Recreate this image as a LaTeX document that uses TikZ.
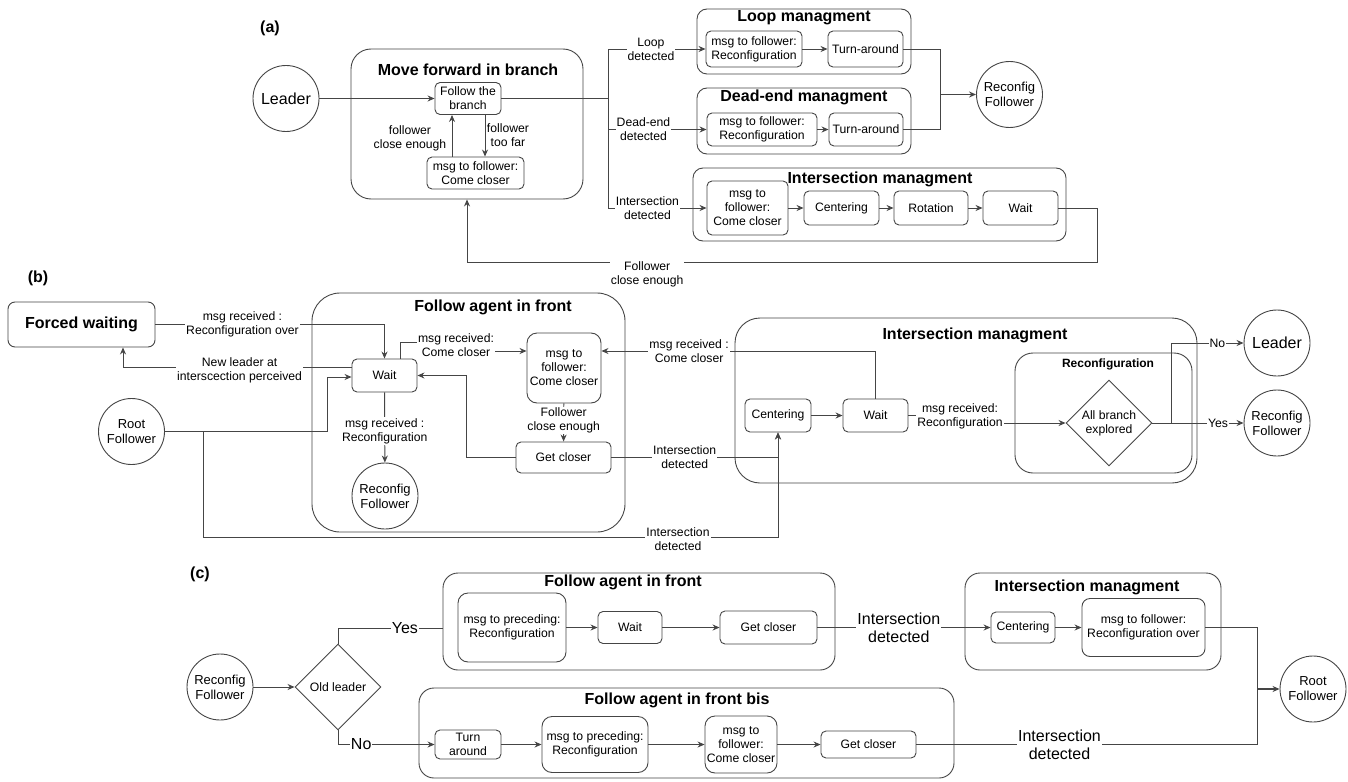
\documentclass[tikz,border=0pt]{standalone}
\usepackage{fontspec}
\setmainfont{Liberation Sans}
\usetikzlibrary{shapes.geometric,arrows.meta,positioning}
\definecolor{ln}{HTML}{454545}

\begin{document}
\begin{tikzpicture}[x=1pt, y=-1pt, >={Stealth[length=7pt,width=6pt]}, line width=0.9pt,
  every node/.style={font=\fontsize{12.2}{14}\selectfont, align=center},
  wire/.style={draw=ln},
  arr/.style={draw=ln, ->},
  box/.style={draw=ln, rectangle, rounded corners=5pt, fill=white, inner sep=0pt},
  group/.style={draw=ln, rectangle, inner sep=0pt},
  title/.style={font=\bfseries\fontsize{16}{18}\selectfont},
  state/.style={draw=ln, circle, minimum size=66pt, inner sep=0pt, fill=white, font=\fontsize{13}{15}\selectfont},
  choice/.style={draw=ln, diamond, aspect=1, minimum width=86pt, minimum height=86pt, inner sep=0pt, fill=white},
  lbl/.style={fill=white, inner sep=1pt},
  big/.style={font=\fontsize{16}{18}\selectfont}]
  \useasboundingbox (0,0) rectangle (1348,781);

  % (a)
  \node[title] at (270,28) {(a)};
  \node[group, minimum width=232pt, minimum height=150pt, rounded corners=20pt] (mv) at (467,124) {};
  \node[title] at (468,70) {Move forward in branch};
  \node[state, big] (leadA) at (286,98.5) {Leader};
  \node[box, minimum width=66pt, minimum height=32pt] (fb) at (468,98.5) {Follow the\\branch};
  \node[box, minimum width=97pt, minimum height=32pt] (mcc) at (475.5,173) {msg to follower:\\Come closer};

  \node[group, minimum width=214pt, minimum height=65pt, rounded corners=10pt] (loopg) at (804,41.5) {};
  \node[title] at (804,18) {Loop managment};
  \node[box, minimum width=96pt, minimum height=36pt] (lmsg) at (754,49) {msg to follower:\\Reconfiguration};
  \node[box, minimum width=75pt, minimum height=36pt] (lturn) at (865.5,49) {Turn-around};

  \node[group, minimum width=214pt, minimum height=66pt, rounded corners=10pt] (deadg) at (804,121) {};
  \node[title] at (804,97) {Dead-end managment};
  \node[box, minimum width=110pt, minimum height=33pt] (dmsg) at (762,129.5) {msg to follower:\\Reconfiguration};
  \node[box, minimum width=74pt, minimum height=33pt] (dturn) at (866,129.5) {Turn-around};

  \node[group, minimum width=373pt, minimum height=73pt, rounded corners=10pt] (intag) at (879.5,204.5) {};
  \node[title] at (880,179) {Intersection managment};
  \node[box, minimum width=81pt, minimum height=54pt] (imsg) at (747.5,208) {msg to\\follower:\\Come closer};
  \node[box, minimum width=75pt, minimum height=34pt] (icent) at (841.5,208) {Centering};
  \node[box, minimum width=74pt, minimum height=34pt] (irot) at (931,208) {Rotation};
  \node[box, minimum width=75pt, minimum height=34pt] (iwait) at (1020.5,208) {Wait};
  \node[state] (rfA) at (1009.5,94.5) {Reconfig\\Follower};

  \draw[arr] (leadA.east) -- (fb.west);
  \draw[arr] ([xshift=-23.5pt]mcc.north) -- ([xshift=-16pt]fb.south);
  \draw[arr] ([xshift=17pt]fb.south) -- ([xshift=9.5pt]mcc.north);
  \node at (410,138) {follower\\close enough};
  \node at (508,135) {follower\\too far};

  \coordinate (sp) at (608,98.5);
  \draw[wire, line width=1.8pt] (fb.east) -- (sp);
  \draw[arr] (sp) |- (lmsg.west) node[lbl, pos=0.72] {Loop\\detected};
  \draw[arr] (sp) |- (dmsg.west) node[lbl, pos=0.68] {Dead-end\\detected};
  \draw[arr] (sp) |- (imsg.west) node[lbl, pos=0.7] {Intersection\\detected};

  \draw[arr] (lmsg) -- (lturn);
  \draw[arr] (dmsg) -- (dturn);
  \draw[arr] (imsg) -- (icent);
  \draw[arr] (icent) -- (irot);
  \draw[arr] (irot) -- (iwait);

  \coordinate (mj) at (940,94.5);
  \draw[wire] (lturn.east) -| (mj);
  \draw[wire] (dturn.east) -| (mj);
  \draw[arr, line width=1.4pt] (mj) -- (rfA.west);

  \coordinate (fc) at (1097,262);
  \draw[arr] (iwait.east) -| (fc) -| (mv.south) node[lbl, pos=0.357, yshift=-12pt] {Follower\\close enough};

  % (b)
  \node[title] at (38,278) {(b)};
  \node[box, title, minimum width=147pt, minimum height=45pt, rounded corners=7pt] (fw) at (81.5,324.5) {Forced waiting};
  \node[group, minimum width=313pt, minimum height=239pt, rounded corners=28pt] (fafb) at (468.5,412.5) {};
  \node[title] at (493,307) {Follow agent in front};
  \node[box, minimum width=65pt, minimum height=33pt] (bwait) at (384.5,375.5) {Wait};
  \node[box, minimum width=74pt, minimum height=70pt, rounded corners=10pt] (bmsg) at (564,368) {msg to\\follower:\\Come closer};
  \node[box, minimum width=95pt, minimum height=31pt] (bget) at (563.5,457.5) {Get closer};
  \node[state] (brf) at (385,496) {Reconfig\\Follower};
  \node[state] (broot) at (131.5,431.5) {Root\\Follower};

  \node[group, minimum width=462pt, minimum height=165pt, rounded corners=25pt] (intb) at (966,400.5) {};
  \node[title] at (975,335) {Intersection managment};
  \node[group, minimum width=177pt, minimum height=120pt, rounded corners=18pt] (recb) at (1103.5,413) {};
  \node[font=\bfseries\fontsize{12}{14}\selectfont] at (1108,364) {Reconfiguration};
  \node[box, minimum width=66pt, minimum height=33pt] (bcent) at (778,415.5) {Centering};
  \node[box, minimum width=65pt, minimum height=33pt] (bwait2) at (875.5,415.5) {Wait};
  \node[choice] (bdia) at (1109,423) {All branch\\explored};
  \node[state, big] (bleader) at (1277,343) {Leader};
  \node[state] (brf2) at (1277,423) {Reconfig\\Follower};

  \draw[arr] (fw.east) -| (bwait.north) node[lbl, pos=0.19] {msg received :\\Reconfiguration over};
  \draw[arr] ([yshift=8pt]bwait.west) -| ([xshift=41.5pt]fw.south) node[lbl, pos=0.245, yshift=-3pt] {New leader at\\interscection perceived};
  \coordinate (rj) at (203,431.5);
  \coordinate (ib) at (778,537);
  \draw[arr] (broot.east) -- (327,431.5) |- ([yshift=-1.5pt]bwait.west);
  \draw[arr] (rj) |- (ib) -- (bcent.south);
  \node[lbl] at (678,539) {Intersection\\detected};

  \draw[arr] ([xshift=15.5pt]bwait.north) |- (464,342) |- ([yshift=17pt]bmsg.west);
  \node[lbl] at (456,345) {msg received:\\Come closer};
  \draw[arr] (bmsg) -- (bget) node[lbl, pos=0.45] {Follower\\close enough};
  \draw[arr] (bget.west) -- (466,457.5) |- (bwait.east);
  \draw[arr] (bwait) -- (brf) node[lbl, pos=0.55] {msg received :\\Reconfiguration};
  \draw[arr] (bget.east) -| (bcent.south) node[lbl, pos=0.22] {Intersection\\detected};
  \draw[arr] (bcent) -- (bwait2);
  \draw[arr] (bwait2.north) |- ([yshift=17pt]bmsg.east) node[lbl, pos=0.84] {msg received :\\Come closer};
  \draw[arr] (bwait2.east) -- ++(10,0) |- (bdia.west);
  \node[lbl] at (960,416) {msg received:\\Reconfiguration};
  \draw[arr] (bdia.east) -- (1171,423) |- (bleader.west) node[lbl, pos=0.82] {No};
  \draw[arr] (bdia.east) -- (brf2.west) node[lbl, pos=0.72] {Yes};

  % (c)
  \node[title] at (200,574) {(c)};
  \node[state] (crf) at (220,687) {Reconfig\\Follower};
  \node[choice] (cdia) at (338,687) {Old leader};
  \node[group, minimum width=392pt, minimum height=97pt, rounded corners=15pt] (fafc) at (639,621.5) {};
  \node[title] at (623,582) {Follow agent in front};
  \node[box, minimum width=108pt, minimum height=69pt, rounded corners=10pt] (cmsg1) at (512,627.5) {msg to preceding:\\Reconfiguration};
  \node[box, minimum width=64pt, minimum height=32pt] (cwait) at (630,627.5) {Wait};
  \node[box, minimum width=97pt, minimum height=33pt] (cget) at (768.5,627.5) {Get closer};
  \node[group, minimum width=256pt, minimum height=97pt, rounded corners=15pt] (intc) at (1093,621.5) {};
  \node[title] at (1087,587) {Intersection managment};
  \node[box, minimum width=64pt, minimum height=31pt] (ccent) at (1023,627.5) {Centering};
  \node[box, minimum width=123pt, minimum height=58pt, rounded corners=8pt] (cmsg2) at (1143.5,627.5) {msg to follower:\\Reconfiguration over};
  \node[state] (croot) at (1313,689) {Root\\Follower};
  \node[group, minimum width=535pt, minimum height=90pt, rounded corners=15pt] (fafbis) at (686.5,733) {};
  \node[title] at (677,700) {Follow agent in front bis};
  \node[box, minimum width=66pt, minimum height=29pt] (cturn) at (468,744.5) {Turn\\around};
  \node[box, minimum width=106pt, minimum height=56pt, rounded corners=10pt] (cmsg3) at (595,744.5) {msg to preceding:\\Reconfiguration};
  \node[box, minimum width=72pt, minimum height=57pt, rounded corners=10pt] (cmsg4) at (741,744.5) {msg to\\follower:\\Come closer};
  \node[box, minimum width=95pt, minimum height=27pt] (cget2) at (868.5,744.5) {Get closer};

  \draw[arr] (crf) -- (cdia);
  \draw[wire] (cdia.north) |- ([yshift=-6.5pt]fafc.west) node[lbl, big, pos=0.82] {Yes};
  \draw[arr] (cdia.south) |- (cturn.west) node[lbl, big, pos=0.62] {No};
  \draw[arr] (cmsg1) -- (cwait);
  \draw[arr] (cwait) -- (cget);
  \draw[arr] (cget) -- (ccent) node[lbl, big, pos=0.47] {Intersection\\detected};
  \draw[arr] (ccent) -- (cmsg2);
  \draw[arr] (cturn) -- (cmsg3);
  \draw[arr] (cmsg3) -- (cmsg4);
  \draw[arr] (cmsg4) -- (cget2);
  \coordinate (cj) at (1257,689);
  \draw[wire] (cmsg2.east) -| (cj);
  \draw[wire] (cget2.east) -| (cj) node[lbl, big, pos=0.21] {Intersection\\detected};
  \draw[arr, line width=1.4pt] (cj) -- (croot.west);
\end{tikzpicture}
\end{document}
